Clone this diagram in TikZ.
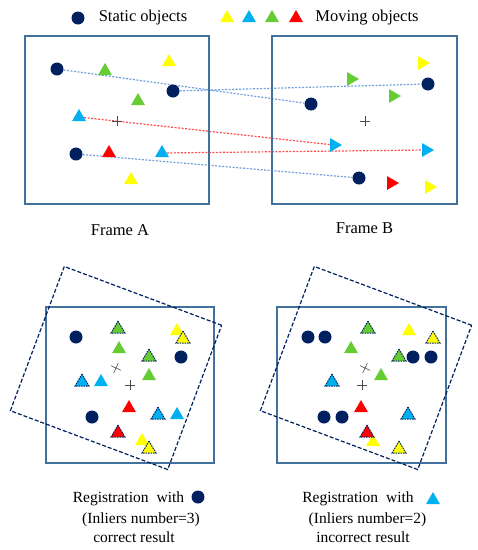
\documentclass[tikz,border=0pt]{standalone}
\usepackage{fontspec}
\setmainfont{Liberation Serif}
\usetikzlibrary{shapes.geometric,shapes.misc,backgrounds}
\definecolor{navy}{HTML}{002060}
\definecolor{frameblue}{HTML}{41719C}
\definecolor{lineblue}{HTML}{6FA0DC}
\definecolor{linered}{HTML}{FF4B4B}
\definecolor{tyellow}{HTML}{FFFF00}
\definecolor{tcyan}{HTML}{00B0F0}
\definecolor{tgreen}{HTML}{66CC33}
\definecolor{tred}{HTML}{FF0000}
\begin{document}
\begin{tikzpicture}[
                x=1pt, y=-1pt,
                every node/.style={inner sep=0pt},
                frame/.style={rectangle, draw=frameblue, line width=1.3pt},
                shifted/.style={rectangle, draw=navy, line width=1.2pt, dash pattern=on 4pt off 2pt,
                        minimum width=168pt, minimum height=154pt, rotate=-20.5},
                stat/.style={circle, fill=navy, minimum size=13pt},
                tri/.style={regular polygon, regular polygon sides=3, minimum size=16pt},
                ytri/.style={tri, fill=tyellow},
                ctri/.style={tri, fill=tcyan},
                gtri/.style={tri, fill=tgreen},
                rtri/.style={tri, fill=tred},
                moved/.style={rotate=-90},
                hit/.style={draw=navy, line width=1pt, dash pattern=on 1.5pt off 1pt},
                centre/.style={cross out, draw=black!70, line width=0.6pt, minimum size=7pt, rotate=45},
                rotcentre/.style={cross out, draw=black!70, line width=0.6pt, minimum size=7pt, rotate=20},
                match/.style={line width=1.2pt, dash pattern=on 2pt off 1.5pt},
                lbl/.style={font=\fontsize{16.5}{19}\selectfont},
                captxt/.style={font=\fontsize{15.5}{18}\selectfont}
            ]
            \useasboundingbox (0,0) rectangle (478,550);

            % legend
            \node[stat] (legstat) at (78,18) {};
            \node[lbl] (legstattxt) at (143,18) {Static objects};
            \node[ytri] (legy) at (227,18) {};
            \node[ctri] (legc) at (249,18) {};
            \node[gtri] (legg) at (272,18) {};
            \node[rtri] (legr) at (296,18) {};
            \node[lbl] (legmovtxt) at (367,18) {Moving objects};

            % frame A
            \node[frame, minimum width=184pt, minimum height=168pt] (frameA) at (117,120) {};
            \node[centre] (ctrA) at (117,121) {};
            \node[stat] (sA1) at (57,69) {};
            \node[stat] (sA2) at (173,91) {};
            \node[stat] (sA3) at (76,154) {};
            \node[gtri] (gA1) at (105,71) {};
            \node[ytri] (yA1) at (169,62) {};
            \node[gtri] (gA2) at (138,101) {};
            \node[ctri] (cA1) at (79,117) {};
            \node[rtri] (rA1) at (109,153) {};
            \node[ctri] (cA2) at (162,153) {};
            \node[ytri] (yA2) at (131,180) {};
            \node[lbl] (labA) at (120,230) {Frame A};

            % frame B
            \node[frame, minimum width=185pt, minimum height=168pt] (frameB) at (364.5,120) {};
            \node[centre] (ctrB) at (365,121) {};
            \node[ytri, moved] (yB1) at (422,63) {};
            \node[gtri, moved] (gB1) at (351,79) {};
            \node[stat] (sB1) at (428,84) {};
            \node[gtri, moved] (gB2) at (393,96) {};
            \node[stat] (sB2) at (311,104) {};
            \node[ctri, moved] (cB1) at (334,145) {};
            \node[ctri, moved] (cB2) at (426,150) {};
            \node[stat] (sB3) at (359,178) {};
            \node[rtri, moved] (rB1) at (391,183) {};
            \node[ytri, moved] (yB2) at (429,187) {};
            \node[lbl] (labB) at (364.5,228) {Frame B};

            \begin{scope}[on background layer]
                \draw[match, lineblue] (sA1) -- (sB2);
                \draw[match, lineblue] (sA2) -- (sB1);
                \draw[match, linered] (cA1) -- (cB1);
                \draw[match, linered] (cA2) -- (cB2);
                \draw[match, lineblue] (sA3) -- (sB3);
            \end{scope}

            % registration with static objects
            \node[frame, minimum width=168pt, minimum height=156pt] (frameL) at (130,385) {};
            \node[shifted] (moveL) at (116,368) {};
            \node[centre] (ctrL) at (130,385) {};
            \node[rotcentre] (rctrL) at (116,368) {};
            \node[stat] (sL1) at (76,337) {};
            \node[stat] (sL2) at (181,357) {};
            \node[stat] (sL3) at (92,417) {};
            \node[gtri, hit] (gL1) at (118,329) {};
            \node[gtri] (gL2) at (119,349) {};
            \node[ytri] (yL1) at (177,331) {};
            \node[ytri, hit] (yL2) at (183,339) {};
            \node[gtri, hit] (gL3) at (149,357) {};
            \node[gtri] (gL4) at (149,376) {};
            \node[ctri, hit] (cL1) at (82,382) {};
            \node[ctri] (cL2) at (101,382) {};
            \node[rtri] (rL1) at (129,408) {};
            \node[ctri, hit] (cL3) at (158,415) {};
            \node[ctri] (cL4) at (177,415) {};
            \node[rtri, hit] (rL2) at (118,433) {};
            \node[ytri] (yL3) at (142,441) {};
            \node[ytri, hit] (yL4) at (149,449) {};
            \node[captxt] (capL1) at (128.5,499) {Registration\hspace{8pt}with};
            \node[stat] (capLs) at (198,497) {};
            \node[captxt] (capL2) at (141,520) {(Inliers number=3)};
            \node[captxt] (capL3) at (134,537) {correct result};

            % registration with moving objects
            \node[frame, minimum width=169pt, minimum height=156pt] (frameR) at (361.5,385) {};
            \node[shifted] (moveR) at (366,368) {};
            \node[centre] (ctrR) at (362,385) {};
            \node[rotcentre] (rctrR) at (365,368) {};
            \node[stat] (sR1) at (308,337) {};
            \node[stat] (sR2) at (325,337) {};
            \node[stat] (sR3) at (413,357) {};
            \node[stat] (sR4) at (431,357) {};
            \node[stat] (sR5) at (324,417) {};
            \node[stat] (sR6) at (342,417) {};
            \node[gtri, hit] (gR1) at (368,329) {};
            \node[ytri] (yR1) at (409,331) {};
            \node[ytri, hit] (yR2) at (433,339) {};
            \node[gtri] (gR2) at (351,349) {};
            \node[gtri, hit] (gR3) at (399,357) {};
            \node[gtri] (gR4) at (381,376) {};
            \node[ctri, hit] (cR1) at (332,382) {};
            \node[rtri] (rR1) at (361,408) {};
            \node[ctri, hit] (cR2) at (408,415) {};
            \node[ytri] (yR3) at (373,442) {};
            \node[rtri, hit] (rR2) at (367,433) {};
            \node[ytri, hit] (yR4) at (399,449) {};
            \node[captxt] (capR1) at (358,499) {Registration\hspace{8pt}with};
            \node[ctri] (capRt) at (433,500) {};
            \node[captxt] (capR2) at (367.5,520) {(Inliers number=2)};
            \node[captxt] (capR3) at (363,537) {incorrect result};

        \end{tikzpicture}
\end{document}
